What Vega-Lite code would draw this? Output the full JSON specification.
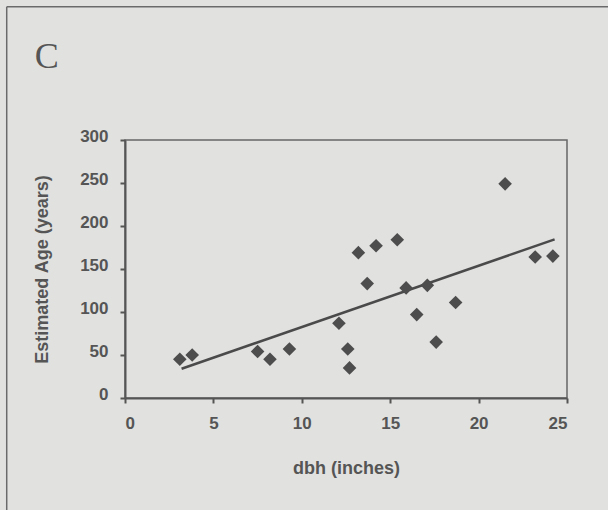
{
  "$schema": "https://vega.github.io/schema/vega-lite/v6.json",
  "width": 442,
  "height": 258,
  "autosize": {"type": "none"},
  "padding": {"left": 125, "top": 140, "right": 41, "bottom": 112},
  "background": "#e1e2e0",
  "datasets": {
    "trees": [
      {"dbh": 3.1, "age": 45},
      {"dbh": 3.8, "age": 50},
      {"dbh": 7.5, "age": 54},
      {"dbh": 8.2, "age": 45},
      {"dbh": 9.3, "age": 57},
      {"dbh": 12.1, "age": 87},
      {"dbh": 12.6, "age": 57},
      {"dbh": 12.7, "age": 35},
      {"dbh": 13.2, "age": 169},
      {"dbh": 13.7, "age": 133},
      {"dbh": 14.2, "age": 177},
      {"dbh": 15.4, "age": 184},
      {"dbh": 15.9, "age": 128},
      {"dbh": 16.5, "age": 97},
      {"dbh": 17.1, "age": 131},
      {"dbh": 17.6, "age": 65},
      {"dbh": 18.7, "age": 111},
      {"dbh": 21.5, "age": 249},
      {"dbh": 23.2, "age": 164},
      {"dbh": 24.2, "age": 165}
    ],
    "fit": [
      {"dbh": 3.2, "age": 34},
      {"dbh": 24.3, "age": 184.5}
    ],
    "panel": [
      {"label": "C"}
    ]
  },
  "config": {
    "view": {"stroke": "#666666", "strokeWidth": 1.5},
    "axis": {
      "labelFont": "Liberation Sans",
      "labelFontWeight": "bold",
      "labelFontSize": 17,
      "labelColor": "#555555",
      "titleFont": "Liberation Sans",
      "titleFontWeight": "bold",
      "titleFontSize": 18,
      "titleColor": "#555555",
      "domainColor": "#555555",
      "domainWidth": 2,
      "tickColor": "#555555",
      "tickWidth": 2,
      "tickSize": 5,
      "grid": false
    }
  },
  "layer": [
    {
      "data": {"name": "panel"},
      "mark": {"type": "rule", "color": "#6a6a6a", "strokeWidth": 1.5, "clip": false},
      "encoding": {
        "x": {"datum": -6.69, "type": "quantitative"},
        "y": {"datum": 455, "type": "quantitative"},
        "y2": {"datum": -140}
      }
    },
    {
      "data": {"name": "panel"},
      "mark": {"type": "rule", "color": "#6a6a6a", "strokeWidth": 1.5, "clip": false},
      "encoding": {
        "x": {"datum": -6.69, "type": "quantitative"},
        "x2": {"datum": 28},
        "y": {"datum": 455, "type": "quantitative"}
      }
    },
    {
      "data": {"name": "panel"},
      "mark": {"type": "text", "font": "Liberation Serif", "fontSize": 36, "color": "#555555", "align": "left", "baseline": "alphabetic", "clip": false},
      "encoding": {
        "x": {"datum": -5.1, "type": "quantitative"},
        "y": {"datum": 383.4, "type": "quantitative"},
        "text": {"field": "label"}
      }
    },
    {
      "data": {"name": "fit"},
      "mark": {"type": "line", "color": "#4a4a4a", "strokeWidth": 2.5},
      "encoding": {
        "x": {"field": "dbh", "type": "quantitative"},
        "y": {"field": "age", "type": "quantitative"}
      }
    },
    {
      "data": {"name": "trees"},
      "mark": {"type": "point", "shape": "diamond", "filled": true, "color": "#4d4d4d", "size": 185, "opacity": 1},
      "encoding": {
        "x": {
          "field": "dbh",
          "type": "quantitative",
          "scale": {"domain": [0, 25], "nice": false, "zero": false},
          "axis": {
            "title": "dbh (inches)",
            "values": [0, 5, 10, 15, 20, 25],
            "labelPadding": 12,
            "titleBaseline": "middle",
            "titleY": 70
          }
        },
        "y": {
          "field": "age",
          "type": "quantitative",
          "scale": {"domain": [0, 300], "nice": false, "zero": false},
          "axis": {
            "title": "Estimated Age (years)",
            "values": [0, 50, 100, 150, 200, 250, 300],
            "labelPadding": 12,
            "labelOffset": -4,
            "titleAngle": -90,
            "titleBaseline": "middle",
            "titleX": -83
          }
        }
      }
    }
  ]
}
